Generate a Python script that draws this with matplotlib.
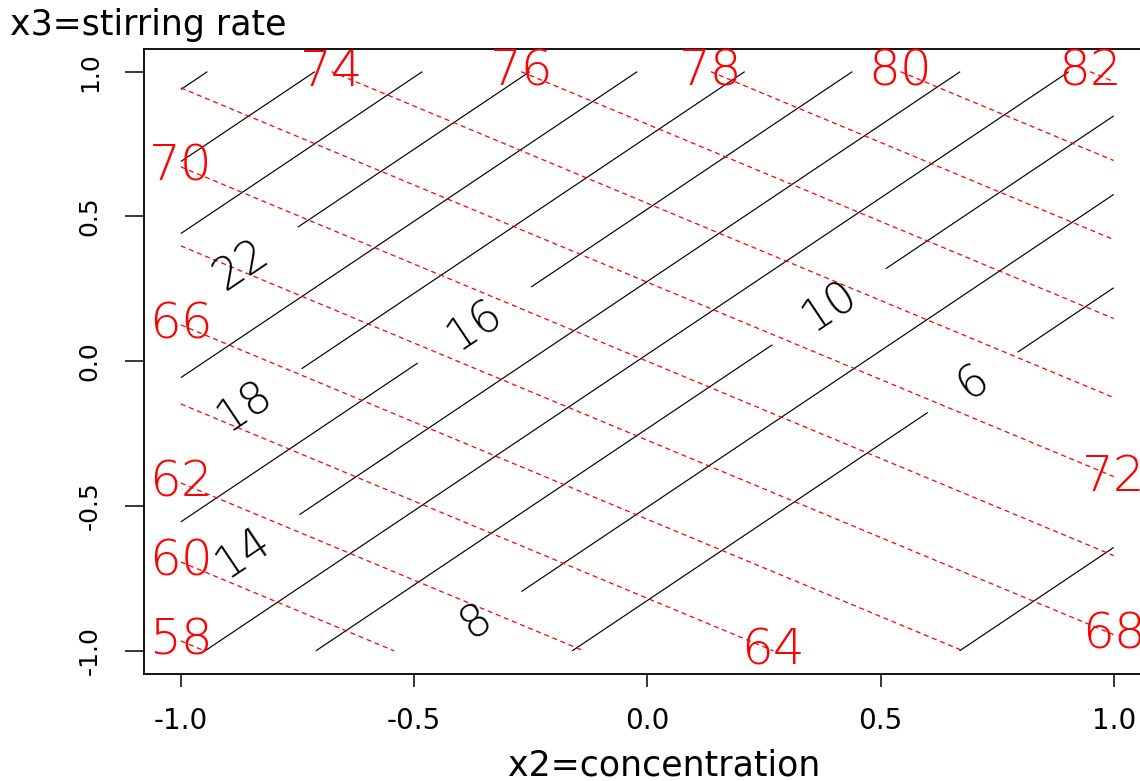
import numpy as np
import matplotlib
matplotlib.use("Agg")
import matplotlib.pyplot as plt
from matplotlib.path import Path

# ---------------- data ----------------
x2_values = np.linspace(-1.0, 1.0, 201)          # concentration (coded)
x3_values = np.linspace(-1.0, 1.0, 201)          # stirring rate (coded)

# red (dashed) response: intercept, x2 effect, x3 effect
red_coef = [70.0, 4.92, 7.33]
red_levels = [58, 60, 62, 64, 66, 68, 70, 72, 74, 76, 78, 80, 82]
red_label_edge = ["left", "left", "left", "bottom", "left", "right", "left",
                  "right", "top", "top", "top", "top", "top"]

# black (solid) response: floor, slope, knee, softness, direction of x2
black_coef = [3.9, 8.04, -0.979, 0.25, 1.08]
black_levels = [4, 6, 8, 10, 12, 14, 16, 18, 20, 22, 24, 26, 28]
black_label_levels = [22, 18, 14, 16, 10, 8, 6]
black_label_at = [(-0.870, 0.330), (-0.870, -0.140), (-0.870, -0.655),
                  (-0.375, 0.136), (0.385, 0.199), (-0.366, -0.900),
                  (0.704, -0.088)]

tick_values = [-1.0, -0.5, 0.0, 0.5, 1.0]
tick_labels = ["-1.0", "-0.5", "0.0", "0.5", "1.0"]

# ---------------- surfaces ----------------
X2, X3 = np.meshgrid(x2_values, x3_values)
a, b, c = red_coef
Z_red = a + b * X2 + c * X3

floor, slope, knee, soft, k = black_coef
U = X3 - k * X2
Z_black = floor + slope * soft * np.log1p(np.exp((U - knee) / soft))


def red_edge_point(level, edge):
    if edge == "left":
        x = -1.0
        return x, (level - a - b * x) / c
    if edge == "right":
        x = 1.0
        return x, (level - a - b * x) / c
    if edge == "top":
        y = 1.0
        return (level - a - c * y) / b, y
    y = -1.0
    return (level - a - c * y) / b, y


def drop_stubs(cs, min_len=0.03):
    """Remove tiny leftover pieces of contour lines next to inline labels."""
    paths = cs.get_paths()
    for i, p in enumerate(paths):
        if p.codes is None or len(p.vertices) == 0:
            continue
        verts, codes = p.vertices, p.codes
        starts = np.where(codes == Path.MOVETO)[0]
        ends = list(starts[1:]) + [len(verts)]
        kv, kc = [], []
        for s, e in zip(starts, ends):
            seg = verts[s:e]
            if e - s > 1:
                d = np.diff(seg, axis=0)
                length = np.sum(np.hypot(d[:, 0], d[:, 1]))
            else:
                length = 0.0
            if length > min_len:
                kv.append(seg)
                kc.append(codes[s:e])
        if kv:
            paths[i] = Path(np.concatenate(kv), np.concatenate(kc))
        else:
            paths[i] = Path(np.empty((0, 2)))
    cs.stale = True


# ---------------- figure ----------------
plt.rcParams["font.family"] = ["DejaVu Sans"]
plt.rcParams["lines.dashed_pattern"] = [4.0, 3.0]

fig = plt.figure(figsize=(11.4, 7.81), dpi=100)
ax = fig.add_axes([0.1259, 0.137, 0.8838, 0.8009])
ax.set_xlim(-1.08, 1.08)
ax.set_ylim(-1.08, 1.08)

cs_black = ax.contour(X2, X3, Z_black, levels=black_levels, colors="black",
                      linewidths=0.85, linestyles="solid")
labels = ax.clabel(cs_black, manual=black_label_at,
                   inline=True, inline_spacing=40, fontsize=32, fmt="%d",
                   colors="black")
for t in labels:
    t.set_fontweight(200)
drop_stubs(cs_black)

cs_red = ax.contour(X2, X3, Z_red, levels=red_levels, colors="red",
                    linewidths=0.9, linestyles="dashed")

for lev, edge in zip(red_levels, red_label_edge):
    px, py = red_edge_point(lev, edge)
    ax.text(px, py, str(lev), color="red", fontsize=36, fontweight=200,
            ha="center", va="center", zorder=5)

ax.set_xticks(tick_values)
ax.set_xticklabels(tick_labels)
ax.set_yticks(tick_values)
ax.set_yticklabels(tick_labels, rotation=90, va="center")
ax.tick_params(axis="x", direction="out", length=9.5, width=1.1,
               pad=14, labelsize=20)
ax.tick_params(axis="y", direction="out", length=14, width=1.1,
               pad=16, labelsize=18)
for sp in ax.spines.values():
    sp.set_linewidth(1.3)
    sp.set_color("black")

fig.text(10 / 1140, 1 - 25 / 781, "x3=stirring rate", fontsize=25,
         ha="left", va="center")
fig.text(664 / 1140, 1 - 766 / 781, "x2=concentration", fontsize=25,
         ha="center", va="center")

fig.savefig("out.png", dpi=100)
